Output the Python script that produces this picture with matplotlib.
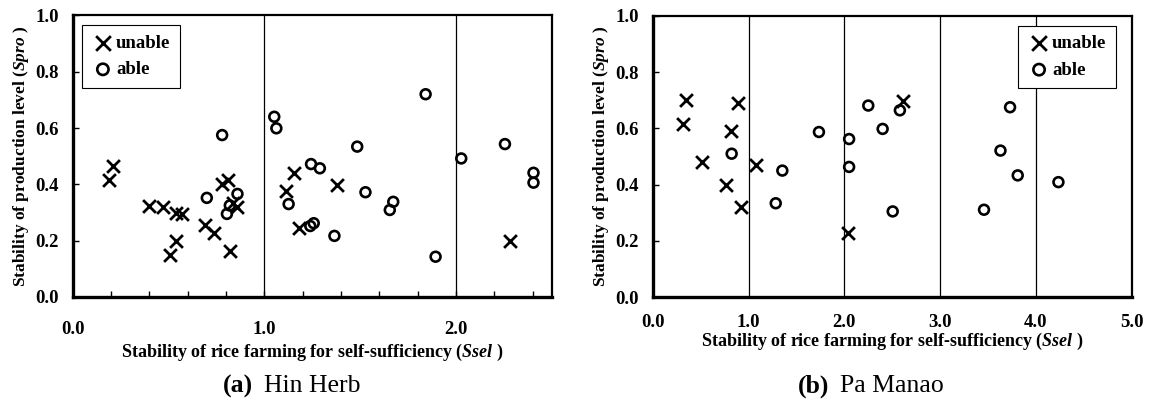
import matplotlib
matplotlib.use('Agg')
import matplotlib.pyplot as plt
import numpy as np

# Hin Herb (a)
hh_unable_x = [0.19, 0.21, 0.40, 0.47, 0.54, 0.57, 0.54, 0.51, 0.69, 0.735, 0.78, 0.81, 0.82, 0.855, 0.835,
               1.115, 1.153, 1.18, 1.38, 2.28]
hh_unable_y = [0.415, 0.465, 0.323, 0.32, 0.30, 0.295, 0.20, 0.15, 0.255, 0.226, 0.40, 0.415, 0.164, 0.318, 0.335,
               0.377, 0.441, 0.244, 0.398, 0.20]
hh_able_x = [0.78, 0.70, 0.86, 0.805, 0.82, 1.052, 1.063, 1.485, 1.244, 1.29, 1.127, 1.528, 1.673, 1.655,
             1.258, 1.24, 1.366, 1.842, 2.028, 2.256, 2.405, 2.405, 1.894]
hh_able_y = [0.575, 0.352, 0.366, 0.295, 0.325, 0.64, 0.599, 0.534, 0.472, 0.457, 0.33, 0.372, 0.338, 0.309,
             0.262, 0.252, 0.217, 0.72, 0.492, 0.543, 0.441, 0.406, 0.143]

# Pa Manao (b)
pm_unable_x = [0.348, 0.313, 0.518, 0.894, 0.817, 0.765, 0.922, 1.078, 2.04, 2.61]
pm_unable_y = [0.699, 0.615, 0.479, 0.69, 0.589, 0.40, 0.322, 0.471, 0.228, 0.696]
pm_able_x = [0.824, 1.353, 1.284, 1.735, 2.05, 2.05, 2.25, 2.40, 2.58, 2.505, 3.458, 3.73, 3.63, 3.81, 4.235]
pm_able_y = [0.51, 0.45, 0.334, 0.587, 0.562, 0.463, 0.681, 0.598, 0.664, 0.305, 0.311, 0.675, 0.521, 0.433, 0.409]

xlabel = r'Stability of rice farming for self-sufficiency ($Ssel$ )'
ylabel = r'Stability of production level ($Spro$ )'

plt.rcParams['font.family'] = 'Liberation Serif'
plt.rcParams['font.weight'] = 'bold'
plt.rcParams['mathtext.fontset'] = 'custom'
plt.rcParams['mathtext.rm'] = 'Liberation Serif:bold'
plt.rcParams['mathtext.it'] = 'Liberation Serif:italic:bold'

fig = plt.figure(figsize=(11.52, 4.04), dpi=100)
ax1 = fig.add_axes([0.0631, 0.2649, 0.4158, 0.697])
ax2 = fig.add_axes([0.5666, 0.2641, 0.4158, 0.697])

panels = [
    (ax1, hh_unable_x, hh_unable_y, hh_able_x, hh_able_y, 2.5, 'upper left', (0.02, 0.965)),
    (ax2, pm_unable_x, pm_unable_y, pm_able_x, pm_able_y, 5.0, 'upper right', (0.967, 0.965)),
]

for ax, ux, uy, ax_, ay, xmax, loc, anchor in panels:
    ax.scatter(ux, uy, marker='x', s=85, c='black', linewidths=2.0, label='unable', zorder=3)
    ax.scatter(ax_, ay, marker='o', s=50, facecolors='none', edgecolors='black', linewidths=1.9,
               label='able', zorder=3)
    ax.set_xlim(0, xmax)
    ax.set_ylim(0, 1.0)
    for v in np.arange(1.0, xmax, 1.0):
        ax.axvline(v, color='black', lw=0.9, zorder=1)
    ax.set_yticks(np.arange(0, 1.01, 0.2))
    ax.set_yticklabels([f'{v:.1f}' for v in np.arange(0, 1.01, 0.2)])
    ax.tick_params(axis='y', direction='in', length=4, width=1, pad=10, labelsize=13.5)
    for s in ax.spines.values():
        s.set_linewidth(1.6)
    ax.spines['left'].set_linewidth(2.4)
    ax.spines['bottom'].set_linewidth(2.4)
    ax.set_ylabel(ylabel, fontsize=12.5, fontweight='bold', labelpad=3)
    leg = ax.legend(loc=loc, bbox_to_anchor=anchor, frameon=True, fancybox=False, framealpha=1,
                    edgecolor='black', fontsize=13.5, handletextpad=0.1, borderpad=0.5,
                    labelspacing=0.5, handlelength=1.2, borderaxespad=0, markerscale=1.15)
    leg.get_frame().set_linewidth(0.8)

# x ticks
ticks1 = np.round(np.arange(0, 2.51, 0.2), 1)
ax1.set_xticks(ticks1)
ax1.set_xticklabels([f'{t:.1f}' if abs(t - round(t)) < 1e-6 else '' for t in ticks1])
ax1.tick_params(axis='x', direction='in', length=4, width=1, pad=17, labelsize=13.5)
ax1.set_xlabel(xlabel, fontsize=13, fontweight='bold', labelpad=3)

ax2.set_xticks(np.arange(0, 5.01, 1.0))
ax2.set_xticklabels([f'{t:.1f}' for t in np.arange(0, 5.01, 1.0)])
ax2.tick_params(axis='x', direction='in', length=0, pad=12, labelsize=13.5)
ax2.set_xlabel(xlabel, fontsize=13, fontweight='bold', labelpad=0)

# captions: bold label, regular site name
cy = 1 - 386 / 404
for tag_x, name_x, tag, name in [(253, 264, '(a)', 'Hin Herb'), (829, 840, '(b)', 'Pa Manao')]:
    fig.text(tag_x / 1152, cy, tag, ha='right', va='center', fontsize=18.5, fontweight='bold')
    fig.text(name_x / 1152, cy, name, ha='left', va='center', fontsize=18.5, fontweight='normal')

fig.savefig('out.png', dpi=100, facecolor='white')
